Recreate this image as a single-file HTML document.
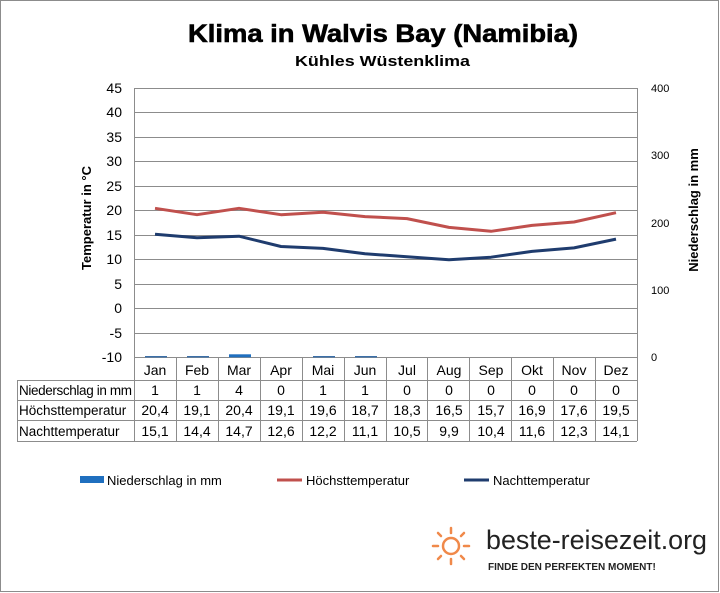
<!DOCTYPE html>
<html><head><meta charset="utf-8"><style>
body{margin:0;background:#fff;}
svg{display:block;font-family:"Liberation Sans",sans-serif;}
</style></head><body>
<svg width="720" height="593" viewBox="0 0 720 593">
<rect x="0.5" y="0.5" width="718" height="591" fill="#fff" stroke="#8c8c8c"/>
<text x="188" y="42" font-size="25" font-weight="bold" textLength="390" lengthAdjust="spacingAndGlyphs" stroke="#000" stroke-width="0.6">Klima in Walvis Bay (Namibia)</text>
<text x="295" y="66" font-size="15" font-weight="bold" textLength="175" lengthAdjust="spacingAndGlyphs">Kühles Wüstenklima</text>
<g stroke="#8c8c8c" stroke-width="1">
<line x1="134" y1="88.5" x2="637" y2="88.5"/><line x1="134" y1="112.5" x2="637" y2="112.5"/><line x1="134" y1="137.5" x2="637" y2="137.5"/><line x1="134" y1="161.5" x2="637" y2="161.5"/><line x1="134" y1="186.5" x2="637" y2="186.5"/><line x1="134" y1="210.5" x2="637" y2="210.5"/><line x1="134" y1="235.5" x2="637" y2="235.5"/><line x1="134" y1="259.5" x2="637" y2="259.5"/><line x1="134" y1="284.5" x2="637" y2="284.5"/><line x1="134" y1="308.5" x2="637" y2="308.5"/><line x1="134" y1="333.5" x2="637" y2="333.5"/><line x1="134" y1="357.5" x2="637" y2="357.5"/>
<line x1="134.5" y1="88" x2="134.5" y2="441"/><line x1="637.5" y1="88" x2="637.5" y2="441"/>
<line x1="17" y1="380.5" x2="637" y2="380.5"/><line x1="17" y1="400.5" x2="637" y2="400.5"/><line x1="17" y1="420.5" x2="637" y2="420.5"/><line x1="17" y1="441.5" x2="637" y2="441.5"/>
<line x1="17.5" y1="380" x2="17.5" y2="441"/>
<line x1="176.5" y1="357" x2="176.5" y2="441"/><line x1="218.5" y1="357" x2="218.5" y2="441"/><line x1="260.5" y1="357" x2="260.5" y2="441"/><line x1="302.5" y1="357" x2="302.5" y2="441"/><line x1="344.5" y1="357" x2="344.5" y2="441"/><line x1="386.5" y1="357" x2="386.5" y2="441"/><line x1="427.5" y1="357" x2="427.5" y2="441"/><line x1="469.5" y1="357" x2="469.5" y2="441"/><line x1="511.5" y1="357" x2="511.5" y2="441"/><line x1="553.5" y1="357" x2="553.5" y2="441"/><line x1="595.5" y1="357" x2="595.5" y2="441"/>
</g>
<g font-size="14" text-anchor="end">
<text x="122" y="93">45</text><text x="122" y="117">40</text><text x="122" y="142">35</text><text x="122" y="166">30</text><text x="122" y="191">25</text><text x="122" y="215">20</text><text x="122" y="240">15</text><text x="122" y="264">10</text><text x="122" y="289">5</text><text x="122" y="313">0</text><text x="122" y="338">-5</text><text x="122" y="362">-10</text>
</g>
<g font-size="11" text-anchor="start">
<text x="651" y="92">400</text><text x="651" y="159">300</text><text x="651" y="227">200</text><text x="651" y="294">100</text><text x="651" y="361">0</text>
</g>
<text transform="translate(91,218) rotate(-90)" font-size="13" font-weight="bold" text-anchor="middle">Temperatur in °C</text>
<text transform="translate(698,210) rotate(-90)" font-size="13" font-weight="bold" text-anchor="middle">Niederschlag in mm</text>
<g fill="#1f6fbf">
<rect x="145" y="356" width="22" height="1.5" fill="#3b6fa8"/><rect x="187" y="356" width="22" height="1.5" fill="#3b6fa8"/><rect x="229" y="354.3" width="22" height="3"/><rect x="313" y="356" width="22" height="1.5" fill="#3b6fa8"/><rect x="355" y="356" width="22" height="1.5" fill="#3b6fa8"/>
</g>
<polyline fill="none" stroke="#c0504d" stroke-width="3" stroke-linejoin="round" points="155,208.3 197,214.7 239,208.3 281,214.7 323,212.2 365,216.6 407,218.6 449,227.4 491,231.3 532,225.4 574,222 616,212.7"/>
<polyline fill="none" stroke="#1f3c6e" stroke-width="3" stroke-linejoin="round" points="155,234.2 197,237.7 239,236.2 281,246.5 323,248.4 365,253.8 407,256.7 449,259.7 491,257.2 532,251.4 574,247.9 616,239.1"/>
<g font-size="14" text-anchor="middle">
<text x="155" y="375">Jan</text><text x="197" y="375">Feb</text><text x="239" y="375">Mar</text><text x="281" y="375">Apr</text><text x="323" y="375">Mai</text><text x="365" y="375">Jun</text><text x="407" y="375">Jul</text><text x="449" y="375">Aug</text><text x="491" y="375">Sep</text><text x="532" y="375">Okt</text><text x="574" y="375">Nov</text><text x="616" y="375">Dez</text>
<text x="155" y="395">1</text><text x="197" y="395">1</text><text x="239" y="395">4</text><text x="281" y="395">0</text><text x="323" y="395">1</text><text x="365" y="395">1</text><text x="407" y="395">0</text><text x="449" y="395">0</text><text x="491" y="395">0</text><text x="532" y="395">0</text><text x="574" y="395">0</text><text x="616" y="395">0</text>
<text x="155" y="415">20,4</text><text x="197" y="415">19,1</text><text x="239" y="415">20,4</text><text x="281" y="415">19,1</text><text x="323" y="415">19,6</text><text x="365" y="415">18,7</text><text x="407" y="415">18,3</text><text x="449" y="415">16,5</text><text x="491" y="415">15,7</text><text x="532" y="415">16,9</text><text x="574" y="415">17,6</text><text x="616" y="415">19,5</text>
<text x="155" y="436">15,1</text><text x="197" y="436">14,4</text><text x="239" y="436">14,7</text><text x="281" y="436">12,6</text><text x="323" y="436">12,2</text><text x="365" y="436">11,1</text><text x="407" y="436">10,5</text><text x="449" y="436">9,9</text><text x="491" y="436">10,4</text><text x="532" y="436">11,6</text><text x="574" y="436">12,3</text><text x="616" y="436">14,1</text>
</g>
<g font-size="13.5">
<text x="19" y="395" textLength="113">Niederschlag in mm</text><text x="19" y="415">Höchsttemperatur</text><text x="19" y="436">Nachttemperatur</text>
</g>
<rect x="80" y="476" width="24" height="7" fill="#1f6fbf"/>
<text x="107" y="485" font-size="13">Niederschlag in mm</text>
<line x1="277" y1="480" x2="302" y2="480" stroke="#c0504d" stroke-width="3"/>
<text x="306" y="485" font-size="13">Höchsttemperatur</text>
<line x1="464" y1="480" x2="489" y2="480" stroke="#1f3c6e" stroke-width="3"/>
<text x="493" y="485" font-size="13">Nachttemperatur</text>
<g stroke="#f0894a" stroke-width="2.5" fill="none" stroke-linecap="round">
<circle cx="451" cy="546" r="8"/>
<line x1="451" y1="528" x2="451" y2="533"/><line x1="451" y1="559" x2="451" y2="564"/>
<line x1="433" y1="546" x2="438" y2="546"/><line x1="464" y1="546" x2="469" y2="546"/>
<line x1="438" y1="533" x2="441" y2="536"/><line x1="461" y1="536" x2="464" y2="533"/>
<line x1="438" y1="559" x2="441" y2="556"/><line x1="461" y1="556" x2="464" y2="559"/>
</g>
<text x="486" y="549" font-size="27" fill="#222" textLength="221" lengthAdjust="spacingAndGlyphs">beste-reisezeit.org</text>
<text x="488" y="570" font-size="10" font-weight="bold" fill="#222">FINDE DEN PERFEKTEN MOMENT!</text>
</svg>
</body></html>
